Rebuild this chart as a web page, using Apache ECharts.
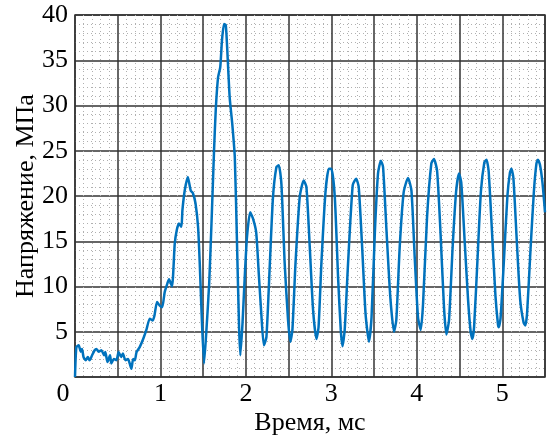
<!DOCTYPE html>
<html>
<head>
<meta charset="utf-8">
<script src="https://cdn.jsdelivr.net/npm/echarts@6/dist/echarts.min.js"></script>
<style>html,body{margin:0;padding:0;background:#fff;}#c{width:552px;height:440px;}</style>
</head>
<body>
<div id="c"></div>
<script>
const xLabels = [0, 1, 2, 3, 4, 5];
const yLabels = [5, 10, 15, 20, 25, 30, 35, 40];
const timeMs = [0,0.016,0.043,0.067,0.082,0.10,0.125,0.15,0.17,0.20,0.23,0.25,0.277,0.31,0.34,0.355,0.38,0.41,0.425,0.455,0.485,0.51,0.54,0.56,0.59,0.62,0.64,0.66,0.68,0.70,0.72,0.757,0.80,0.835,0.875,0.91,0.93,0.96,0.99,1.02,1.05,1.08,1.10,1.135,1.167,1.19,1.217,1.245,1.257,1.284,1.32,1.354,1.38,1.41,1.44,1.46,1.48,1.51,1.54,1.57,1.60,1.627,1.647,1.674,1.70,1.72,1.744,1.764,1.78,1.81,1.84,1.87,1.896,1.92,1.935,1.96,1.986,2.013,2.05,2.083,2.12,2.15,2.18,2.21,2.24,2.28,2.317,2.357,2.384,2.415,2.454,2.493,2.52,2.544,2.58,2.63,2.676,2.708,2.747,2.786,2.825,2.85,2.883,2.93,2.97,3.0,3.04,3.08,3.11,3.13,3.156,3.195,3.25,3.29,3.32,3.36,3.40,3.44,3.47,3.51,3.546,3.58,3.605,3.645,3.69,3.733,3.76,3.80,3.846,3.897,3.937,3.975,4.014,4.046,4.073,4.12,4.17,4.2,4.237,4.276,4.318,4.346,4.377,4.42,4.46,4.494,4.52,4.56,4.60,4.63,4.65,4.67,4.71,4.75,4.79,4.815,4.84,4.88,4.92,4.95,4.96,4.98,5.02,5.06,5.09,5.107,5.13,5.17,5.21,5.25,5.27,5.29,5.33,5.37,5.40,5.418,5.44,5.47,5.5];
const stressMPa = [0,3.3,3.5,2.8,3.1,2.2,1.85,2.2,1.85,2.4,2.95,3.1,2.8,2.95,2.4,2.75,1.65,2.4,1.5,2.0,1.85,2.75,2.2,2.6,1.85,2.0,1.5,0.9,2.0,1.85,2.75,3.3,4.25,5.2,6.45,6.25,6.8,8.3,7.9,7.7,9.4,10.3,10.8,10.0,14.7,16.2,16.95,16.6,18.4,20.6,22.1,20.6,20.3,19.2,16.6,12.5,7.4,1.5,5.5,10.3,17.7,25.0,29.5,33.1,34.25,37.2,39.0,38.9,36.5,30.9,28.0,24.3,14.7,5.5,2.4,5.9,11.0,15.5,18.2,17.5,16.0,11.5,7.0,3.5,4.4,12.5,19.9,23.2,23.4,21.4,12.5,6.3,3.9,5.2,12.5,19.9,21.7,21.0,14.4,7.4,4.2,5.5,12.5,20.3,23.0,23.0,19.9,10.7,5.2,3.4,5.2,12.5,21.2,21.9,21.0,14.4,7.0,3.9,6.6,16.2,22.5,23.9,23.2,16.2,8.8,5.0,6.3,14.4,20.4,22.0,20.6,13.3,6.6,5.2,8.1,17.7,23.6,24.1,22.8,16.2,7.7,4.7,6.3,14.5,20.5,22.5,21.5,15,8.5,5,4.2,5.5,13,20.5,23.7,24.0,22.8,16,9,5.8,5.5,6.5,13,20,22.6,23.0,22,15,8.5,6,5.7,7,14,20.5,23.6,24.0,23.5,21.5,18.2];

const data = timeMs.map((t, i) => [t, stressMPa[i]]);
const font = 'Liberation Serif';
const fs = 26;
const chart = echarts.init(document.getElementById('c'));
chart.setOption({
  animation: false,
  grid: { left: 75, top: 15, width: 470, height: 362, containLabel: false, outerBoundsMode: 'none',
    show: true, borderColor: '#333', borderWidth: 1.5, backgroundColor: 'transparent' },
  xAxis: {
    type: 'value', min: 0, max: 5.5, interval: 0.5,
    name: 'Время, мс', nameLocation: 'middle', nameGap: 33, nameMoveOverlap: false,
    nameTextStyle: { fontFamily: font, fontSize: fs, color: '#000' },
    axisLine: { show: false }, axisTick: { show: false },
    axisLabel: { fontFamily: font, fontSize: fs, color: '#000', margin: 4,
      formatter: v => xLabels.includes(v) ? (v === 0 ? '{z|0}' : String(v)) : '',
      rich: { z: { fontFamily: font, fontSize: fs, color: '#000', padding: [0, 24, 0, 0] } } },
    splitLine: { show: true, lineStyle: { color: '#333', width: 1.5 } },
    minorTick: { show: false, splitNumber: 5 },
    minorSplitLine: { show: true, lineStyle: { color: '#b0b0b0', width: 1, type: [1, 3] } }
  },
  yAxis: {
    type: 'value', min: 0, max: 40, interval: 5,
    name: 'Напряжение, МПа', nameLocation: 'middle', nameGap: 36, nameMoveOverlap: false,
    nameTextStyle: { fontFamily: font, fontSize: fs, color: '#000' },
    axisLine: { show: false }, axisTick: { show: false },
    axisLabel: { fontFamily: font, fontSize: fs, color: '#000', margin: 7,
      formatter: v => yLabels.includes(v) ? String(v) : '' },
    splitLine: { show: true, lineStyle: { color: '#333', width: 1.5 } },
    minorTick: { show: false, splitNumber: 5 },
    minorSplitLine: { show: true, lineStyle: { color: '#b0b0b0', width: 1, type: [1, 3] } }
  },
  series: [{
    type: 'line', data: data, showSymbol: false, smooth: 0.2,
    lineStyle: { color: '#0072BD', width: 2.5 }
  }]
});
</script>
</body>
</html>
